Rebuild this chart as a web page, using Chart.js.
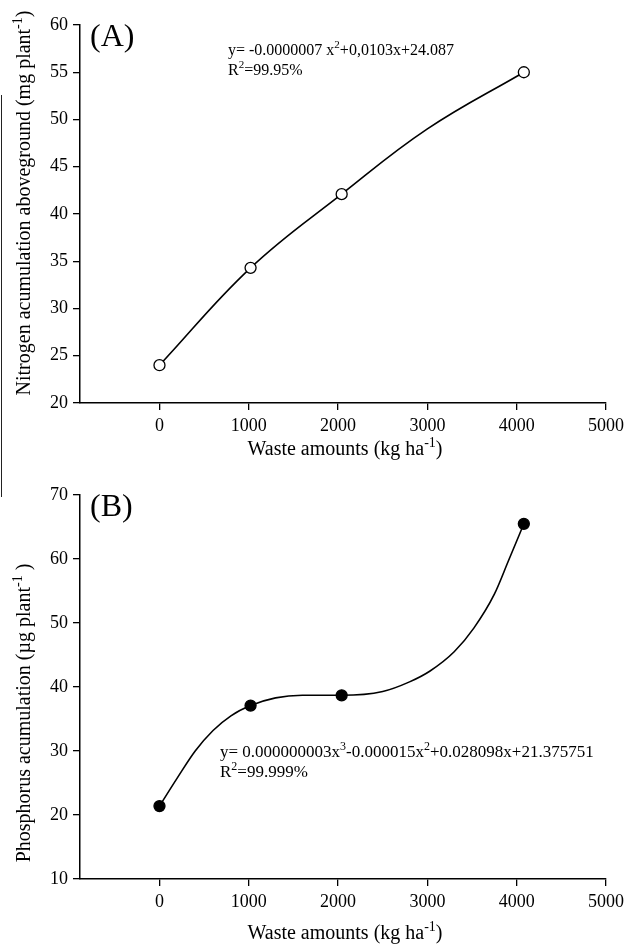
<!DOCTYPE html>
<html>
<head>
<meta charset="utf-8">
<script src="https://cdn.jsdelivr.net/npm/chart.js@4.4.1/dist/chart.umd.min.js"></script>
<style>
  html, body { margin: 0; padding: 0; background: #fff; }
  #wrap { position: relative; width: 629px; height: 945px; overflow: hidden; }
  .panel { position: absolute; left: 0; width: 629px; }
  #edge { position: absolute; left: 1px; top: 95px; width: 1px; height: 402px; background: #222; }
</style>
</head>
<body>
<div id="wrap">
  <div class="panel" style="top:0;height:470px"><canvas id="chartA" width="629" height="470"></canvas></div>
  <div class="panel" style="top:470px;height:475px"><canvas id="chartB" width="629" height="475"></canvas></div>
  <div id="edge"></div>
</div>
<script>
// observed values
const wasteAmounts = [0, 1020, 2040, 4080];
const nitrogen = [24.0, 34.3, 42.1, 55.0];
const phosphorus = [21.4, 37.1, 38.7, 65.5];

// fitted curves
const fitXA = [0, 1020, 2040, 3000, 4080];
const fitNitrogen = [24.0, 34.3, 42.1, 49.0, 55.0];
const fitXB = [0, 200, 400, 600, 800, 1020, 1300, 1600, 2040, 2500, 2800, 3030, 3300, 3520, 3750, 3910, 4080];
const fitPhosphorus = [21.4, 25.8, 30.0, 33.2, 35.5, 37.1, 38.3, 38.7, 38.7, 39.3, 40.8, 42.5, 45.5, 49.2, 54.5, 59.8, 65.5];

// tick labels
const xTicks = [0, 1000, 2000, 3000, 4000, 5000];
const yTicksA = [20, 25, 30, 35, 40, 45, 50, 55, 60];
const yTicksB = [10, 20, 30, 40, 50, 60, 70];

const SERIF = '"Liberation Serif", "Times New Roman", serif';

// draw text with superscript pieces: parts = [[text, isSup], ...]
function drawRich(ctx, parts, x, y, size, align) {
    const supSize = Math.round(size * 0.68);
    let total = 0;
    parts.forEach(p => {
        ctx.font = (p[1] ? supSize : size) + 'px ' + SERIF;
        total += ctx.measureText(p[0]).width;
    });
    let cx = align === 'center' ? x - total / 2 : x;
    ctx.textBaseline = 'alphabetic';
    ctx.textAlign = 'left';
    parts.forEach(p => {
        ctx.font = (p[1] ? supSize : size) + 'px ' + SERIF;
        ctx.fillText(p[0], cx, p[1] ? y - size * 0.42 : y);
        cx += ctx.measureText(p[0]).width;
    });
}

function toPoints(xs, ys) {
    return xs.map((x, i) => ({ x: x, y: ys[i] }));
}

function makeChart(id, cfg) {
    const labelsPlugin = {
        id: 'labels_' + id,
        afterDraw(chart) {
            const ctx = chart.ctx;
            ctx.save();
            ctx.fillStyle = '#000';
            // panel letter
            drawRich(ctx, [[cfg.letter, false]], 90, cfg.letterY, 32, 'left');
            // equation
            drawRich(ctx, cfg.equation, cfg.eqX, cfg.eqY, cfg.eqSize, 'left');
            drawRich(ctx, cfg.r2, cfg.eqX, cfg.eqY + 20, cfg.eqSize, 'left');
            // x title
            drawRich(ctx, [['Waste amounts (kg ha', false], ['-1', true], [')', false]],
                345, cfg.xTitleY, 20, 'center');
            // y title
            ctx.translate(30, cfg.yTitleY);
            ctx.rotate(-Math.PI / 2);
            drawRich(ctx, cfg.yTitle, 0, 0, 20, 'center');
            ctx.restore();
        }
    };

    return new Chart(document.getElementById(id), {
        type: 'scatter',
        data: {
            datasets: [{
                label: 'observed',
                data: toPoints(wasteAmounts, cfg.values),
                showLine: false,
                pointRadius: 5.5,
                pointBackgroundColor: cfg.filled ? '#000' : '#fff',
                pointBorderColor: '#000',
                pointBorderWidth: 1.3
            }, {
                label: 'fit',
                data: toPoints(cfg.fitX, cfg.fitY),
                showLine: true,
                pointRadius: 0,
                borderColor: '#000',
                borderWidth: 1.6,
                tension: cfg.tension,
                cubicInterpolationMode: cfg.mode
            }]
        },
        options: {
            responsive: false,
            animation: false,
            layout: { padding: { top: 25, right: 19, left: 0, bottom: 0 } },
            plugins: {
                legend: { display: false },
                tooltip: { enabled: false }
            },
            scales: {
                x: {
                    type: 'linear',
                    min: -890,
                    max: 5000,
                    afterBuildTicks: scale => { scale.ticks = xTicks.map(v => ({ value: v })); },
                    afterFit: scale => { scale.height = cfg.xAxisHeight; },
                    border: { display: true, color: '#000', width: 1.5 },
                    grid: { display: true, drawOnChartArea: false, drawTicks: true, tickLength: 7, color: '#000', lineWidth: 1.3 },
                    ticks: { color: '#000', padding: 5, maxRotation: 0, font: { family: SERIF, size: 18 },
                        callback: v => String(v) }
                },
                y: {
                    min: cfg.yTicks[0],
                    max: cfg.yTicks[cfg.yTicks.length - 1],
                    afterBuildTicks: scale => { scale.ticks = cfg.yTicks.map(v => ({ value: v })); },
                    afterFit: scale => { scale.width = 80; },
                    border: { display: true, color: '#000', width: 1.5 },
                    grid: { display: true, drawOnChartArea: false, drawTicks: true, tickLength: 7, color: '#000', lineWidth: 1.3 },
                    ticks: { color: '#000', padding: 5, font: { family: SERIF, size: 18 },
                        callback: v => String(v) }
                }
            }
        },
        plugins: [labelsPlugin]
    });
}

makeChart('chartA', {
    values: nitrogen,
    fitX: fitXA,
    fitY: fitNitrogen,
    tension: 0.4,
    mode: 'default',
    filled: false,
    yTicks: yTicksA,
    xAxisHeight: 67,
    letter: '(A)',
    letterY: 46,
    eqX: 228,
    eqY: 55,
    eqSize: 16,
    equation: [['y= -0.0000007 x', false], ['2', true], ['+0,0103x+24.087', false]],
    r2: [['R', false], ['2', true], ['=99.95%', false]],
    xTitleY: 455,
    yTitleY: 203,
    yTitle: [['Nitrogen acumulation aboveground (mg plant', false], ['-1', true], [')', false]]
});

makeChart('chartB', {
    values: phosphorus,
    fitX: fitXB,
    fitY: fitPhosphorus,
    tension: 0,
    mode: 'monotone',
    filled: true,
    yTicks: yTicksB,
    xAxisHeight: 66,
    letter: '(B)',
    letterY: 46,
    eqX: 220,
    eqY: 287,
    eqSize: 17,
    equation: [['y= 0.000000003x', false], ['3', true], ['-0.000015x', false], ['2', true], ['+0.028098x+21.375751', false]],
    r2: [['R', false], ['2', true], ['=99.999%', false]],
    xTitleY: 469,
    yTitleY: 243,
    yTitle: [['Phosphorus acumulation (\u00b5g plant', false], ['-1', true], [' )', false]]
});
</script>
</body>
</html>
